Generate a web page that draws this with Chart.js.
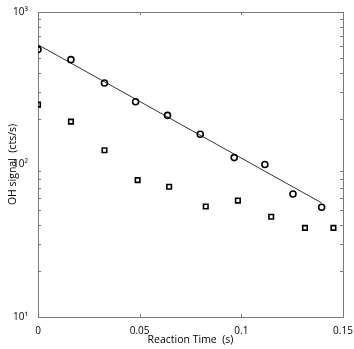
<!DOCTYPE html>
<html>
<head>
<meta charset="utf-8">
<script src="https://cdn.jsdelivr.net/npm/chart.js@4"></script>
<style>
  html, body { margin: 0; padding: 0; background: #fff; }
  #wrap { width: 354px; height: 349px; }
</style>
</head>
<body>
<div id="wrap"><canvas id="chart"></canvas></div>
<script>
// data
const circleX = [0, 0.0162, 0.0327, 0.048, 0.0637, 0.0798, 0.0965, 0.1116, 0.1254, 0.1395];
const circleY = [567, 487, 342, 258, 210, 158, 111, 100, 64, 52.5];
const squareX = [0, 0.0162, 0.0327, 0.049, 0.0645, 0.0825, 0.0983, 0.1147, 0.1313, 0.1453];
const squareY = [247, 191, 124, 79, 71.5, 53, 58, 45.4, 38.4, 38.4];
const fitX = [0, 0.1395];
const fitY = [610, 56];
const xTicks = [0, 0.05, 0.1, 0.15];
const yTicks = [10, 100, 1000];
const sup = { 1: '\u00b9', 2: '\u00b2', 3: '\u00b3' };

const toPts = (xs, ys) => xs.map((x, i) => ({ x: x, y: ys[i] }));

// box + inward tick marks (matlab style)
const boxTicks = {
  id: 'boxTicks',
  beforeDatasetsDraw(chart) {
    const { ctx, chartArea: a, scales: { x, y } } = chart;
    ctx.save();
    ctx.strokeStyle = '#7a7a7a';
    ctx.lineWidth = 1;
    ctx.strokeRect(a.left + 0.5, a.top + 0.5, a.right - a.left, a.bottom - a.top);
    ctx.beginPath();
    xTicks.forEach(v => {
      const px = Math.round(x.getPixelForValue(v)) + 0.5;
      ctx.moveTo(px, a.bottom); ctx.lineTo(px, a.bottom - 3);
      ctx.moveTo(px, a.top); ctx.lineTo(px, a.top + 3);
    });
    [10, 100].forEach(d => {
      for (let m = 2; m <= 9; m++) {
        const py = Math.round(y.getPixelForValue(d * m)) + 0.5;
        ctx.moveTo(a.left, py); ctx.lineTo(a.left + 3, py);
        ctx.moveTo(a.right, py); ctx.lineTo(a.right - 3, py);
      }
    });
    ctx.stroke();
    ctx.restore();
  }
};

const ctx = document.getElementById('chart').getContext('2d');
new Chart(ctx, {
  type: 'scatter',
  data: {
    datasets: [{
      data: toPts(circleX, circleY),
      pointStyle: 'circle',
      pointRadius: 3,
      borderColor: '#000',
      backgroundColor: 'rgba(0,0,0,0)',
      borderWidth: 1.6
    }, {
      data: toPts(squareX, squareY),
      pointStyle: 'rect',
      pointRadius: 3.2,
      borderColor: '#000',
      backgroundColor: 'rgba(0,0,0,0)',
      borderWidth: 1.6
    }, {
      type: 'line',
      data: toPts(fitX, fitY),
      borderColor: '#333',
      borderWidth: 1,
      pointRadius: 0,
      showLine: true
    }]
  },
  options: {
    responsive: true,
    maintainAspectRatio: false,
    animation: false,
    layout: { padding: { top: 12, right: 11, left: 0, bottom: 0 } },
    plugins: {
      legend: { display: false },
      tooltip: { enabled: false }
    },
    scales: {
      x: {
        type: 'linear',
        min: 0,
        max: 0.15,
        grid: { display: false },
        border: { display: false },
        afterBuildTicks: s => { s.ticks = xTicks.map(v => ({ value: v })); },
        afterFit: s => { s.height = 32; },
        ticks: {
          color: '#000',
          font: { family: 'Open Sans', size: 10 },
          padding: 0,
          maxRotation: 0,
          callback: v => String(v)
        },
        title: {
          display: true,
          text: 'Reaction Time  (s)',
          color: '#000',
          font: { family: 'Open Sans', size: 10.5 },
          padding: { top: 0, bottom: 3 }
        }
      },
      y: {
        type: 'logarithmic',
        min: 10,
        max: 1000,
        grid: { display: false },
        border: { display: false },
        afterBuildTicks: s => { s.ticks = yTicks.map(v => ({ value: v })); },
        afterFit: s => { s.width = 38; },
        ticks: {
          color: '#000',
          font: { family: 'Open Sans', size: 10 },
          padding: 2,
          callback: v => '10' + sup[Math.round(Math.log10(v))]
        },
        title: {
          display: true,
          text: 'OH signal  (cts/s)',
          color: '#000',
          font: { family: 'Open Sans', size: 10.5 },
          padding: { top: 7, bottom: 0 }
        }
      }
    }
  },
  plugins: [boxTicks]
});
</script>
</body>
</html>
